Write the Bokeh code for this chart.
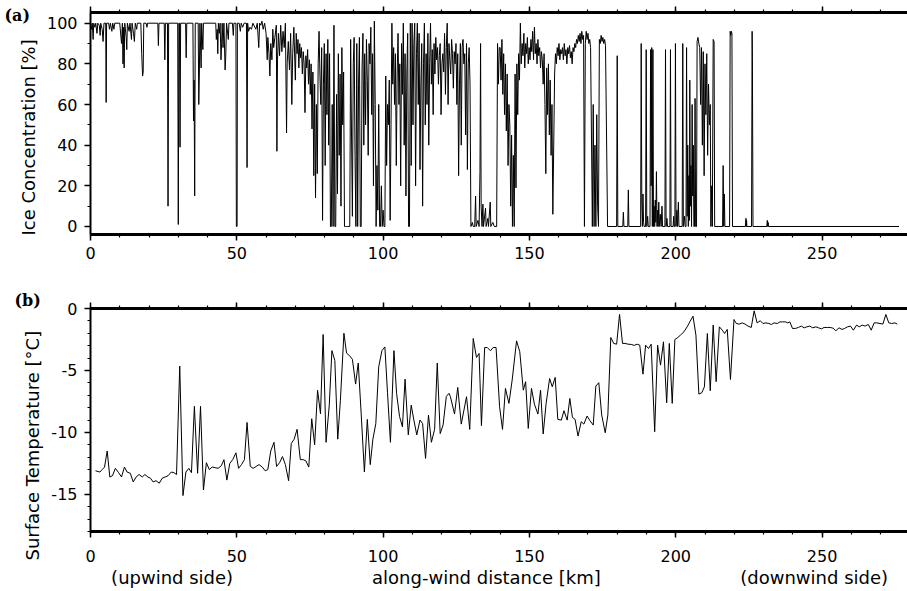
import math
from bokeh.plotting import figure
from bokeh.models import Range1d, LinearAxis, FixedTicker, Title
from bokeh.layouts import column
from bokeh.embed import file_html
from bokeh.resources import INLINE

# ---------------- data: ice concentration (panel a) ----------------
ice_km_1 = [0.0, 0.3, 0.6, 0.9, 1.1, 1.5, 1.8, 2.2, 2.5, 3.0,
            3.3, 3.5, 4.0, 4.3, 4.6, 5.2, 5.35, 5.5, 6.2, 6.5,
            6.8, 7.3, 7.6, 8.0, 8.3, 10.0, 10.6, 10.9, 11.1, 11.3,
            11.5, 11.7, 12.2, 12.4, 12.6, 13.2, 13.5, 14.0, 14.2, 14.7,
            15.0, 15.3, 15.8, 16.0, 17.2, 17.5, 17.8, 18.0, 18.2, 19.0,
            19.3, 19.5, 23.0, 23.2, 23.4, 25.2, 25.4, 25.6, 26.3, 26.5,
            26.7, 29.8]
ice_pct_1 = [100, 97, 100, 92, 100, 98, 100, 95, 100, 99,
             94, 100, 97, 91, 100, 100, 61, 100, 100, 97,
             100, 96, 100, 97, 100, 100, 90, 100, 80, 98,
             78, 100, 93, 87, 100, 96, 100, 92, 100, 95,
             91, 100, 97, 100, 100, 85, 74, 76, 100, 100,
             98, 100, 100, 89, 100, 100, 82, 100, 100, 10,
             100, 100]

ice_km_2 = [30.0, 30.2, 30.4, 30.6, 30.8, 32.5, 32.7, 32.9, 35.0, 35.2,
            35.4, 35.6, 35.8, 36.8, 37.0, 37.2, 37.4, 37.8, 38.0, 38.4,
            38.6, 42.8, 43.0, 43.3, 43.5, 43.7, 44.0, 44.3, 44.6, 44.8,
            45.0, 45.3, 45.6, 46.0, 46.2, 46.5, 47.1, 47.3, 48.5, 48.8,
            49.0, 49.7, 49.85, 50.1, 50.2, 50.8, 51.2, 51.5, 52.0, 52.5,
            53.3, 53.5, 53.7, 54.0, 54.5, 55.0, 55.5, 56.5, 57.0, 57.5,
            57.8, 58.2, 58.6, 59.0, 59.5]
ice_pct_2 = [1, 100, 100, 39, 100, 100, 83, 100, 100, 52,
             72, 15, 100, 100, 60, 75, 100, 78, 100, 87,
             100, 100, 92, 97, 85, 100, 95, 100, 82, 90,
             100, 88, 100, 77, 83, 100, 92, 100, 100, 94,
             100, 100, 0, 0, 100, 100, 96, 100, 98, 100,
             100, 29, 100, 96, 98, 97, 100, 97, 100, 88,
             100, 99, 101, 97, 100]

ice_km_3 = [60.0, 60.4, 60.6, 61.0, 61.3, 61.6, 62.0, 62.3, 62.6, 63.0,
            63.5, 63.7, 63.9, 64.2, 64.6, 65.0, 65.4, 65.8, 66.2, 66.6,
            67.0, 67.2, 67.6, 68.0, 68.4, 68.8, 69.1, 69.5]
ice_pct_3 = [95, 82, 93, 85, 74, 90, 82, 97, 88, 93,
             99, 37, 82, 95, 84, 99, 86, 96, 88, 100,
             46, 80, 91, 77, 95, 60, 85, 98]

ice_km_4 = [70.0, 70.3, 70.6, 70.9, 71.2, 71.5, 71.8, 72.1, 72.4, 72.7,
            73.0, 73.3, 73.6, 73.9, 74.2, 74.5, 74.8, 75.1, 75.4, 75.7,
            76.0, 76.3, 76.6, 76.9, 77.2, 77.5, 77.8, 78.1, 78.4, 78.7,
            79.0, 79.3, 79.6, 79.9, 80.2, 80.5, 80.8, 81.1, 81.4, 81.7,
            82.0, 82.3, 82.6, 82.9, 83.2, 83.5, 83.8, 84.1, 84.4, 84.7,
            85.0, 85.3, 85.6, 85.9, 86.2, 86.5, 86.8, 87.1, 87.4, 87.7,
            88.0, 88.3, 88.6, 88.9, 89.2, 89.5, 89.8, 90.1, 90.4, 90.7,
            91.0, 91.3, 91.6, 91.9, 92.2, 92.5, 92.8, 93.1, 93.4, 93.7,
            94.0, 94.3, 94.6, 94.9, 95.2, 95.5, 95.8, 96.1, 96.4, 96.7,
            97.0, 97.3, 97.6, 97.9, 98.2, 98.5, 98.8, 99.1, 99.4, 99.7]
ice_pct_4 = [72, 95, 85, 92, 78, 90, 83, 88, 75, 86,
             80, 56, 84, 78, 87, 70, 82, 65, 80, 48,
             76, 25, 70, 14, 60, 26, 80, 96, 75, 60,
             88, 3, 70, 90, 30, 85, 55, 92, 40, 85,
             0, 0, 60, 0, 99, 0, 0, 65, 16, 85,
             35, 75, 10, 88, 50, 76, 0, 0, 0, 0,
             0, 0, 0, 92, 45, 5, 80, 93, 35, 0,
             90, 0, 70, 93, 0, 0, 78, 95, 40, 85,
             50, 92, 72, 35, 90, 80, 98, 55, 85, 20,
             101, 60, 0, 30, 8, 60, 0, 0, 20, 0]

ice_km_5 = [100.0, 100.3, 100.6, 100.9, 101.2, 101.5, 101.8, 102.1, 102.4, 102.7,
            103.0, 103.3, 103.6, 103.9, 104.2, 104.5, 104.8, 105.1, 105.4, 105.7,
            106.0, 106.3, 106.6, 106.9, 107.2, 107.5, 107.8, 108.1, 108.4, 108.7,
            109.0, 109.3, 109.6, 109.9, 110.2, 110.5, 110.8, 111.1, 111.4, 111.7,
            112.0, 112.3, 112.6, 112.9, 113.2, 113.5, 113.8, 114.1, 114.4, 114.7,
            115.0, 115.3, 115.6, 115.9, 116.2, 116.5, 116.8, 117.1, 117.4, 117.7,
            118.0, 118.3, 118.6, 118.9, 119.2, 119.5, 119.8, 120.1, 120.4, 120.7,
            121.0, 121.3, 121.6, 121.9, 122.2, 122.5, 122.8, 123.1, 123.4, 123.7,
            124.0, 124.3, 124.6, 124.9, 125.2, 125.5, 125.8, 126.1, 126.4, 126.7,
            127.0, 127.3, 127.6, 127.9, 128.2, 128.5, 128.8, 129.1, 129.4, 129.7]
ice_pct_5 = [8, 0, 0, 74, 30, 60, 50, 72, 3, 50,
             100, 70, 88, 60, 85, 30, 75, 95, 60, 80,
             20, 90, 65, 100, 40, 85, 15, 75, 95, 0,
             0, 100, 30, 100, 50, 90, 100, 20, 85, 100,
             60, 95, 28, 70, 90, 10, 80, 100, 50, 85,
             60, 95, 40, 80, 100, 70, 87, 55, 90, 75,
             93, 82, 88, 70, 84, 90, 55, 80, 85, 76,
             95, 65, 88, 100, 60, 90, 82, 75, 92, 85,
             68, 86, 80, 90, 60, 85, 25, 70, 90, 40,
             88, 92, 80, 85, 45, 90, 28, 80, 88, 70]

ice_km_6 = [130.0, 130.5, 130.8, 131.3, 131.6, 131.8, 132.4, 132.8, 133.1, 133.3,
            133.5, 133.8, 134.1, 134.3, 135.0, 135.2, 135.8, 136.0, 136.6, 136.8,
            137.5, 138.0, 138.8, 139.1, 139.4, 139.7]
ice_pct_6 = [0, 2, 0, 0, 15, 0, 3, 0, 27, 90,
             10, 0, 11, 0, 9, 0, 4, 0, 12, 0,
             2, 0, 0, 90, 70, 88]

ice_km_7 = [140.0, 140.3, 140.6, 140.9, 141.2, 141.5, 141.8, 142.1, 142.4, 142.7,
            143.0, 143.3, 143.6, 143.9, 144.2, 144.5, 144.8, 145.1, 145.4, 145.7,
            146.0, 146.3, 146.6, 146.9, 147.2, 147.5, 147.8, 148.1, 148.4, 148.7,
            149.0, 149.3, 149.6, 149.9, 150.2, 150.5, 150.8, 151.1, 151.4, 151.7,
            152.0, 152.3, 152.6, 152.9, 153.2, 153.5, 153.8, 154.1, 154.4, 154.7,
            155.0, 155.3, 155.6, 155.9, 156.2, 156.5, 156.8, 157.1, 157.4, 157.7,
            158.0, 158.3, 158.6, 158.9, 159.2, 159.5, 159.8, 160.1, 160.4, 160.7,
            161.0, 161.3, 161.6, 161.9, 162.2, 162.5, 162.8, 163.1, 163.4, 163.7,
            164.0, 164.3, 164.6, 164.9, 165.2, 165.5, 165.8, 166.1, 166.4, 166.7,
            167.0, 167.3, 167.6, 167.9, 168.2, 168.5, 168.8, 169.1, 169.4, 169.7,
            170.0, 170.3, 170.6, 170.9, 171.2, 171.5, 171.8, 172.1, 172.4, 172.7,
            173.0, 173.3, 173.6, 173.9, 174.2, 174.5, 174.8, 175.1, 175.4, 175.7,
            176.0, 176.7]
ice_pct_7 = [88, 72, 92, 65, 85, 55, 80, 47, 75, 30,
             60, 50, 10, 45, 0, 35, 0, 75, 19, 80,
             55, 85, 72, 100, 80, 90, 84, 95, 78, 90,
             85, 93, 80, 88, 82, 92, 86, 96, 82, 98,
             85, 90, 80, 92, 84, 88, 78, 86, 82, 70,
             85, 60, 26, 78, 55, 80, 45, 72, 35, 60,
             6, 40, 75, 85, 80, 88, 84, 90, 82, 87,
             85, 88, 82, 90, 84, 87, 80, 88, 85, 89,
             83, 86, 80, 88, 86, 90, 88, 92, 90, 94,
             91, 95, 90, 96, 92, 94, 0, 90, 96, 92,
             95, 90, 92, 88, 45, 0, 60, 0, 40, 0,
             55, 10, 0, 92, 90, 94, 91, 93, 90, 92,
             89, 0]

ice_km_8 = [179.8, 180.0, 180.2, 181.9, 182.1, 182.3, 183.6, 183.8, 184.0, 188.0,
            188.2, 188.4, 188.6, 188.8, 189.0, 189.2, 189.7, 189.9, 190.1, 190.4,
            190.6, 191.2, 191.4, 191.6, 191.8, 192.0, 192.2, 192.4, 192.6, 192.8,
            193.0, 193.2, 193.4, 193.6, 193.8, 194.0, 194.2, 194.4, 194.7, 195.0,
            195.3, 195.5, 196.3, 196.5, 196.7, 197.0, 197.2, 198.0, 198.2, 198.4,
            199.1, 199.3, 199.5, 199.7, 199.9, 200.1, 200.4, 200.6, 200.9, 201.1,
            202.2, 202.4, 202.6, 203.0, 203.2, 203.5, 203.7, 203.9, 204.1, 204.3,
            204.5, 204.7, 204.8, 205.0, 205.2, 205.4, 205.6, 205.8, 206.0, 206.2,
            206.4, 206.6, 206.8, 207.1]
ice_pct_8 = [0, 84, 0, 0, 7, 0, 0, 18, 0, 0,
             90, 12, 0, 16, 2, 0, 0, 87, 0, 5,
             0, 0, 87, 20, 88, 0, 87, 0, 10, 0,
             13, 2, 27, 0, 8, 0, 12, 0, 6, 0,
             10, 0, 0, 87, 0, 4, 0, 0, 87, 0,
             0, 5, 0, 0, 90, 0, 8, 0, 12, 0,
             0, 90, 0, 5, 0, 0, 88, 5, 40, 0,
             25, 3, 72, 10, 30, 0, 60, 15, 40, 0,
             0, 63, 0, 0]

ice_km_9 = [207.3, 207.6, 207.9, 208.2, 208.5, 208.8, 209.1, 209.4, 209.7, 210.0,
            210.3, 210.6, 210.9, 211.2, 211.5, 211.8, 212.0, 212.3, 212.5, 212.8,
            213.1, 213.3, 216.0, 216.2, 216.4, 216.6, 216.8, 218.4, 218.6, 218.8,
            219.0, 219.2, 219.4, 223.8, 224.0, 224.1, 224.2, 224.3, 225.9, 226.1,
            226.2, 226.4, 231.1, 231.3, 231.4, 231.6, 231.7, 276.3]
ice_pct_9 = [91, 93, 90, 88, 60, 88, 40, 86, 25, 80,
             55, 85, 35, 70, 50, 60, 0, 20, 0, 92,
             91, 0, 0, 30, 0, 16, 0, 0, 96, 94,
             96, 95, 0, 0, 4, 0, 3, 0, 0, 96,
             83, 0, 0, 3, 0, 2, 0, 0]

# ---------------- data: surface temperature (panel b) ----------------
temp_km_1 = [1.7, 3.2, 4.0, 4.8, 5.7, 6.6, 7.5, 8.5, 9.6, 10.6,
             11.6, 12.5, 13.6, 14.6, 15.6, 16.6, 17.7, 18.6, 19.6, 20.5,
             21.4, 22.4, 23.5, 24.5, 25.5, 26.5, 27.6, 28.5, 29.4, 30.5,
             31.6, 32.6, 33.6, 34.5, 35.5, 36.6, 37.6, 38.6, 39.6, 40.6,
             41.6, 42.6, 43.6, 44.7, 45.6, 46.6, 47.6, 48.6, 49.7, 50.6,
             51.6, 52.6, 53.5, 54.6, 55.6, 56.6, 57.6, 58.7, 59.7, 60.6,
             61.6, 62.7, 63.6, 64.6, 65.6, 66.6, 67.7, 68.6, 69.6, 70.6,
             71.7, 72.7, 73.6, 74.6, 75.6, 76.6, 77.6, 78.6, 79.5, 80.5,
             81.6, 82.5, 83.5, 84.5, 85.4, 86.6, 87.5, 88.5, 89.5, 90.6,
             91.5, 92.5, 93.6, 94.6, 95.6, 96.5, 97.5, 98.5, 99.6, 100.6,
             101.5, 102.5, 103.7, 104.6, 105.6, 106.6, 107.5, 108.6, 109.6, 110.5,
             111.5, 112.6, 113.5, 114.5, 115.5, 116.5, 117.6, 118.5, 119.5, 120.5,
             121.6, 122.5]
temp_c_1 = [-13.1, -13.2, -13.0, -12.8, -11.5, -13.6, -13.5, -12.9, -13.25, -13.6,
            -12.8, -13.2, -13.3, -14.0, -13.6, -13.4, -13.6, -13.4, -13.6, -13.7,
            -14.0, -13.9, -14.1, -13.7, -13.6, -13.5, -13.2, -13.25, -13.4, -4.65,
            -15.1, -13.2, -12.9, -13.25, -7.9, -13.3, -7.9, -14.65, -12.45, -13.0,
            -12.8, -12.85, -12.9, -12.7, -12.2, -13.85, -12.5, -12.2, -11.65, -12.9,
            -12.6, -12.2, -9.2, -12.75, -12.9, -12.75, -12.6, -12.8, -13.1, -13.0,
            -11.5, -10.8, -12.75, -12.45, -11.95, -12.6, -13.9, -10.9, -10.55, -9.75,
            -12.2, -12.2, -12.3, -12.8, -8.9, -11.0, -6.6, -8.5, -2.1, -10.8,
            -7.8, -3.4, -4.2, -10.55, -7.4, -2.0, -3.6, -3.8, -4.1, -6.1,
            -4.4, -8.5, -13.2, -8.95, -12.6, -10.55, -9.3, -4.7, -3.4, -3.1,
            -6.8, -10.8, -3.4, -6.85, -8.7, -9.55, -5.7, -10.2, -7.8, -9.0,
            -10.2, -9.0, -9.3, -12.1, -8.6, -10.8, -9.75, -4.4, -10.1, -9.4,
            -7.1, -6.85]

temp_km_2 = [123.0, 124.4, 125.5, 126.7, 128.5, 129.6, 130.8, 131.9, 132.8, 133.6,
             134.7, 135.6, 136.7, 137.6, 138.6, 139.8, 140.8, 141.8, 143.0, 144.1,
             145.6, 146.7, 147.9, 148.7, 149.6, 150.7, 151.7, 152.9, 153.8, 154.7,
             155.7, 156.9, 157.8, 158.8, 159.7, 160.9, 161.8, 162.9, 163.8, 164.7,
             165.6, 166.6, 167.7, 168.6, 169.7, 170.7, 171.8, 172.7, 173.7, 174.7,
             175.9, 176.8, 177.8, 178.8, 179.8, 180.8, 181.8, 182.7, 183.7, 184.8,
             185.8, 186.8, 187.7, 188.8, 189.7, 190.7, 191.6, 192.8, 193.8, 194.8,
             195.8, 196.9, 197.8, 198.8, 199.7, 200.7, 201.6, 202.8, 203.9, 204.8,
             205.9, 206.9, 207.9, 208.9, 209.8, 210.8, 211.8, 212.8, 213.8, 214.9,
             215.9, 216.7, 217.6, 218.7, 219.9, 220.7, 221.7, 222.7, 223.7, 224.7,
             225.8, 226.8, 227.8, 228.9, 229.8, 230.8, 231.8, 232.7, 233.6, 234.7,
             235.6, 236.5, 237.5, 238.3, 239.0, 239.9, 240.9, 241.9, 242.9, 243.9,
             244.8, 245.8, 246.8, 247.9, 248.8, 249.8, 250.7, 251.8, 252.8, 253.8,
             254.7, 255.8, 256.8, 257.7, 258.7, 259.7, 260.7, 261.8, 262.7, 263.7,
             264.7, 265.8, 266.8, 267.8, 268.7, 269.8, 270.8, 271.8, 272.8, 273.8,
             274.9, 275.7]
temp_c_2 = [-7.12, -8.52, -6.37, -9.33, -7.12, -9.76, -2.42, -3.95, -3.63, -9.46,
            -3.15, -3.15, -3.41, -3.15, -3.15, -7.93, -9.76, -6.45, -7.66, -5.78,
            -2.61, -3.49, -6.59, -5.91, -9.68, -6.45, -7.72, -8.52, -6.59, -10.13,
            -7.66, -5.65, -6.32, -5.56, -8.95, -9.01, -8.25, -9.01, -7.26, -8.79,
            -8.95, -10.30, -9.14, -9.33, -8.68, -9.06, -9.41, -6.26, -5.99, -8.60,
            -10.03, -8.60, -2.34, -2.82, -2.88, -0.48, -2.82, -2.82, -2.88, -2.90,
            -2.98, -2.88, -2.96, -5.30, -2.96, -3.23, -2.88, -9.95, -2.96, -4.57,
            -2.69, -7.61, -2.82, -7.66, -2.50, -2.34, -2.15, -1.88, -1.48, -1.08,
            -0.62, -2.15, -6.91, -6.80, -6.32, -2.02, -6.64, -1.34, -5.91, -1.48,
            -1.75, -2.02, -1.69, -5.73, -0.89, -1.21, -1.26, -1.16, -1.26, -1.42,
            -1.53, -0.19, -1.16, -0.99, -1.21, -1.16, -1.21, -1.29, -1.16, -1.21,
            -1.08, -1.08, -1.08, -1.16, -1.08, -1.61, -1.61, -1.53, -1.42, -1.56,
            -1.48, -1.42, -1.56, -1.48, -1.56, -1.64, -1.53, -1.53, -1.53, -1.59,
            -1.80, -1.56, -1.69, -1.61, -1.48, -1.42, -1.75, -1.34, -1.48, -1.34,
            -1.42, -1.29, -1.75, -1.16, -1.16, -1.21, -1.26, -0.48, -1.16, -1.21,
            -1.16, -1.26]

# ---------------- ticks and texts ----------------
x_ticks = [0, 50, 100, 150, 200, 250]
x_minor_ticks = [0, 10, 20, 30, 40, 50, 60, 70, 80, 90, 100, 110, 120, 130,
                 140, 150, 160, 170, 180, 190, 200, 210, 220, 230, 240, 250,
                 260, 270]
ice_ticks = [0, 20, 40, 60, 80, 100]
ice_minor_ticks = [0, 10, 20, 30, 40, 50, 60, 70, 80, 90, 100]
temp_ticks = [0, -5, -10, -15]
temp_minor_ticks = [0, -1, -2, -3, -4, -5, -6, -7, -8, -9, -10, -11, -12, -13,
                    -14, -15, -16, -17, -18]
panel_tags = ["(a)", "(b)"]
y_titles = ["Ice Concentration [%]", "Surface Temperature [°C]"]
x_notes = ["(upwind side)", "along-wind distance [km]", "(downwind side)"]
x_note_km = [27.9, 135.3, 247.3]

chunks_km = [ice_km_1, ice_km_2, ice_km_3, ice_km_4, ice_km_5, ice_km_6,
             ice_km_7, ice_km_8, ice_km_9]
chunks_pct = [ice_pct_1, ice_pct_2, ice_pct_3, ice_pct_4, ice_pct_5, ice_pct_6,
              ice_pct_7, ice_pct_8, ice_pct_9]
ice_km, ice_pct = [], []
for a, b in zip(chunks_km, chunks_pct):
    n = min(len(a), len(b))
    ice_km += a[:n]
    ice_pct += b[:n]
temp_km = temp_km_1 + temp_km_2
temp_c = temp_c_1 + temp_c_2

FONT = "DejaVu Sans"
W = 907
X_END = 279.2


def style_axis(ax, standoff, size, lw):
    ax.axis_line_width = lw
    ax.axis_line_color = "black"
    ax.major_tick_out = 6
    ax.major_tick_in = 0
    ax.minor_tick_out = 3
    ax.minor_tick_in = 0
    ax.major_tick_line_width = 1.5
    ax.minor_tick_line_width = 1.2
    ax.major_tick_line_color = "black"
    ax.minor_tick_line_color = "black"
    ax.major_label_text_font = FONT
    ax.major_label_text_font_size = size
    ax.major_label_text_color = "black"
    ax.major_label_standoff = standoff


def make_panel(h, y0, y1, top_b, bot_b, yt, ym, xs, ys, y_over=None):
    p = figure(width=W, height=h, x_range=Range1d(0, X_END), y_range=Range1d(y0, y1),
               output_backend="svg", toolbar_location=None,
               x_axis_location=None, y_axis_location=None,
               min_border_left=90, min_border_right=0,
               min_border_top=top_b, min_border_bottom=bot_b)
    p.outline_line_color = None
    p.grid.grid_line_color = None
    p.background_fill_color = "white"
    p.border_fill_color = "white"
    top = LinearAxis(ticker=FixedTicker(ticks=x_ticks, minor_ticks=x_minor_ticks))
    style_axis(top, 0, "1px", 3)
    top.major_label_text_color = None
    p.add_layout(top, "above")
    bot = LinearAxis(ticker=FixedTicker(ticks=x_ticks, minor_ticks=x_minor_ticks))
    style_axis(bot, xs, "16px", 3)
    p.add_layout(bot, "below")
    left = LinearAxis(ticker=FixedTicker(ticks=yt, minor_ticks=ym))
    style_axis(left, ys, "16px", 2)
    if y_over:
        left.major_label_overrides = y_over
    p.add_layout(left, "left")
    return p


def add_titles(p, tag, tag_offset, tag_standoff, ytitle, y_offset, y_standoff):
    p.add_layout(Title(text=ytitle, align="left", offset=y_offset, standoff=y_standoff,
                       text_font=FONT, text_font_size="18px",
                       text_font_style="normal", text_color="black"), "left")
    p.add_layout(Title(text=tag, align="left", offset=tag_offset, standoff=tag_standoff,
                       text_font="DejaVu Serif", text_font_size="16px",
                       text_font_style="bold", text_color="black"), "above")


# panel (a)
pa = make_panel(290, -3.94, 105.26, 12, 56, ice_ticks, ice_minor_ticks, 6, 7)
pa.line(ice_km, ice_pct, line_color="black", line_width=1)
add_titles(pa, panel_tags[0], -86, -37, y_titles[0], -1, 9)

# panel (b)
pb = make_panel(301, -18, 0, 18, 60, temp_ticks, temp_minor_ticks, 12, 7,
                y_over={t: str(t) for t in temp_ticks})
pb.line(temp_km, temp_c, line_color="black", line_width=1)
notes = LinearAxis(ticker=FixedTicker(ticks=x_note_km, minor_ticks=[]))
notes.axis_line_color = None
notes.major_tick_line_color = None
notes.minor_tick_line_color = None
notes.major_tick_out = 0
notes.minor_tick_out = 0
notes.major_label_standoff = 2
notes.major_label_text_font = FONT
notes.major_label_text_font_size = "18px"
notes.major_label_text_color = "black"
notes.major_label_overrides = {k: t for k, t in zip(x_note_km, x_notes)}
pb.add_layout(notes, "below")
add_titles(pb, panel_tags[1], -76, -15, y_titles[1], -29, 12)

layout = column(pa, pb)
open("out.html", "w").write(file_html(layout, INLINE))
